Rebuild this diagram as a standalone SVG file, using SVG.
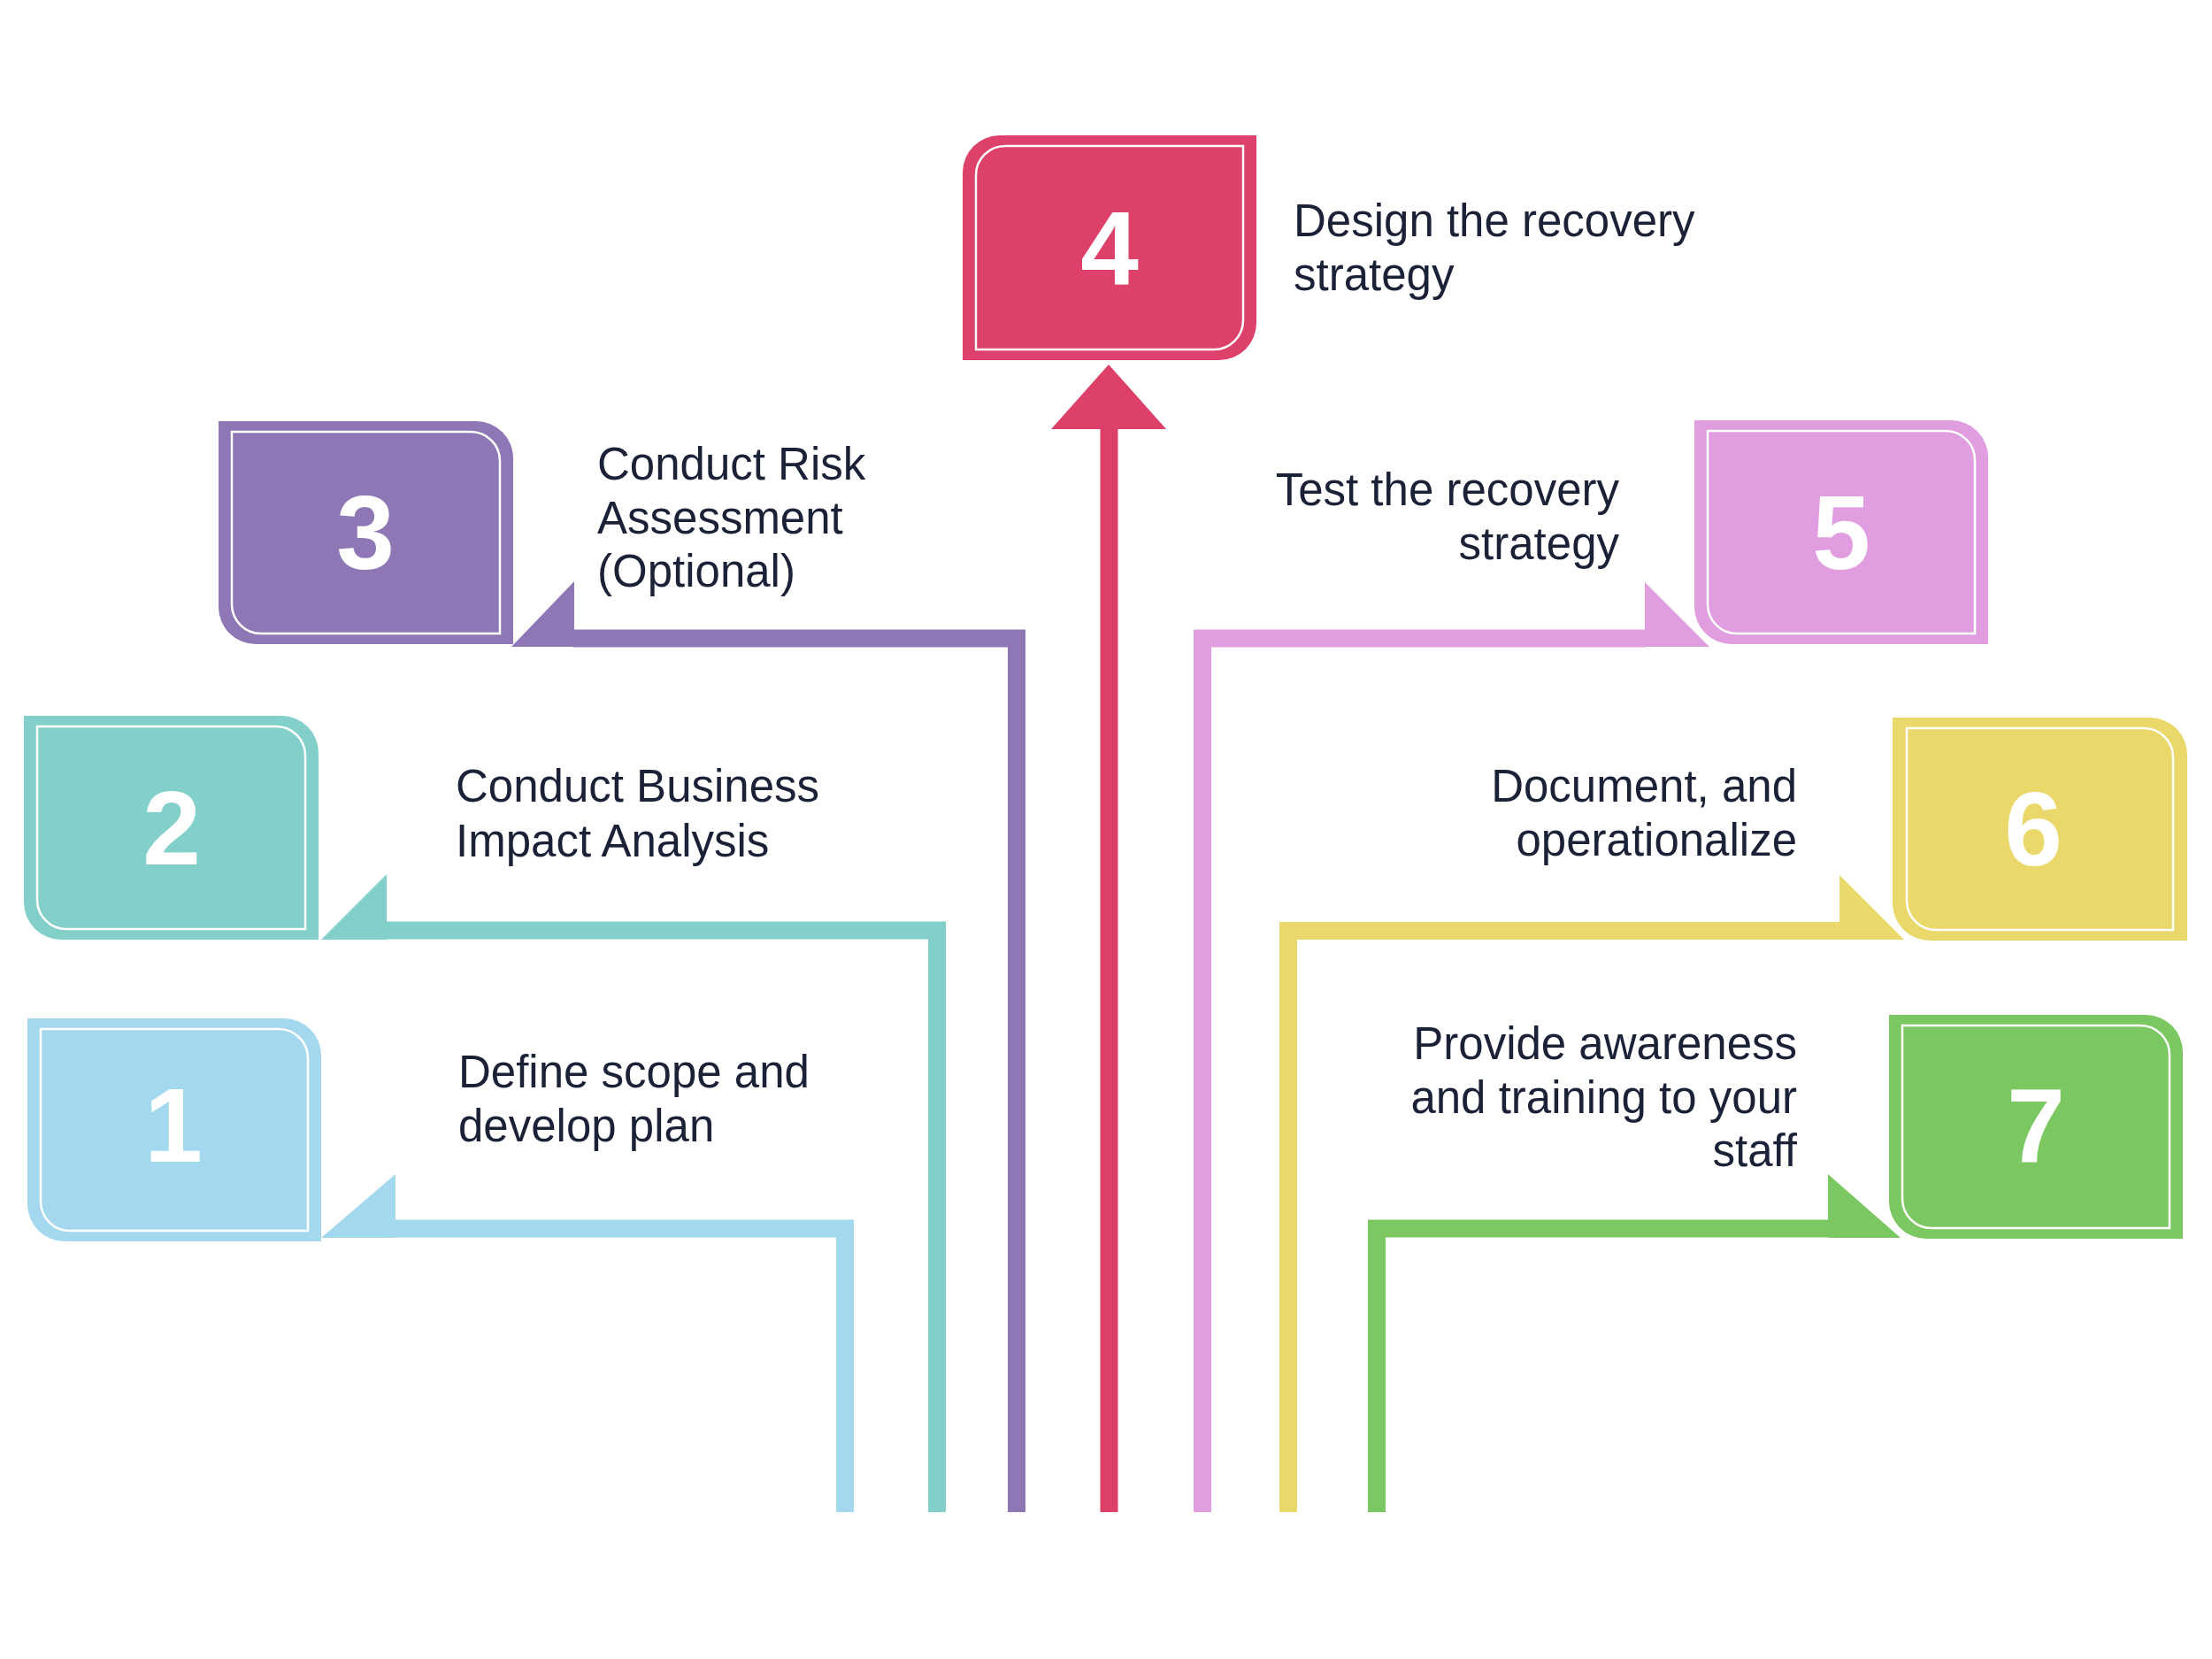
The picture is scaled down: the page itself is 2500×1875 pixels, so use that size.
<svg xmlns="http://www.w3.org/2000/svg" width="2500" height="1875" viewBox="0 0 2500 1875">
<style>
.lbl{font-family:"Liberation Sans",Arial,sans-serif;font-size:51px;fill:#1B2137}
.num{font-family:"Liberation Sans",Arial,sans-serif;font-size:118px;font-weight:bold;fill:#FFFFFF;text-anchor:middle}
.inner{fill:none;stroke:#FFFFFF;stroke-width:2.5}
.conn{fill:none;stroke-width:20;stroke-linejoin:miter;stroke-linecap:butt}
.end{text-anchor:end}
</style>
<rect x="0" y="0" width="2500" height="1875" fill="#FFFFFF"/>
<g id="connectors">
  <path class="conn" stroke="#A3D8EE" d="M955 1709 V1388.5 H446"/>
  <polygon fill="#A3D8EE" points="447,1327 447,1399 363,1399"/>
  <path class="conn" stroke="#83D0CB" d="M1059 1709 V1051.5 H436"/>
  <polygon fill="#83D0CB" points="437,988 437,1062 363,1062"/>
  <path class="conn" stroke="#8F76B5" d="M1149 1709 V721.5 H648"/>
  <polygon fill="#8F76B5" points="649,657 649,731 578,731"/>
  <path class="conn" stroke="#DD4068" d="M1253.5 1709 V484"/>
  <polygon fill="#DD4068" points="1188,485 1318,485 1253,412"/>
  <path class="conn" stroke="#E09DE0" d="M1359 1709 V721.5 H1860"/>
  <polygon fill="#E09DE0" points="1859,658 1859,731 1932,731"/>
  <path class="conn" stroke="#EAD86A" d="M1456 1709 V1052 H2080"/>
  <polygon fill="#EAD86A" points="2079,989 2079,1062 2152,1062"/>
  <path class="conn" stroke="#7BC862" d="M1556 1709 V1388.5 H2067"/>
  <polygon fill="#7BC862" points="2066,1327 2066,1399 2148,1399"/>
</g>
<g id="node1">
  <path fill="#A3D8EE" d="M31 1151 H321 A42 42 0 0 1 363 1193 V1403 H73 A42 42 0 0 1 31 1361 Z"/>
  <path class="inner" d="M46 1163 H315 A33 33 0 0 1 348 1196 V1391 H79 A33 33 0 0 1 46 1358 Z"/>
  <text class="num" x="196" y="1313">1</text>
  <text class="lbl" x="518" y="1229">Define scope and</text>
  <text class="lbl" x="518" y="1290">develop plan</text>
</g>
<g id="node2">
  <path fill="#83D0CB" d="M27 809 H318 A42 42 0 0 1 360 851 V1062 H69 A42 42 0 0 1 27 1020 Z"/>
  <path class="inner" d="M42 821 H312 A33 33 0 0 1 345 854 V1050 H75 A33 33 0 0 1 42 1017 Z"/>
  <text class="num" x="194" y="977">2</text>
  <text class="lbl" x="515" y="906">Conduct Business</text>
  <text class="lbl" x="515" y="968">Impact Analysis</text>
</g>
<g id="node3">
  <path fill="#8F76B5" d="M247 476 H538 A42 42 0 0 1 580 518 V728 H289 A42 42 0 0 1 247 686 Z"/>
  <path class="inner" d="M262 488 H532 A33 33 0 0 1 565 521 V716 H295 A33 33 0 0 1 262 683 Z"/>
  <text class="num" x="413" y="643">3</text>
  <text class="lbl" x="675" y="542">Conduct Risk</text>
  <text class="lbl" x="675" y="603">Assessment</text>
  <text class="lbl" x="675" y="663">(Optional)</text>
</g>
<g id="node4">
  <path fill="#DD4068" d="M1130 153 H1420 V365 A42 42 0 0 1 1378 407 H1088 V195 A42 42 0 0 1 1130 153 Z"/>
  <path class="inner" d="M1136 165 H1405 V362 A33 33 0 0 1 1372 395 H1103 V198 A33 33 0 0 1 1136 165 Z"/>
  <text class="num" x="1254" y="322">4</text>
  <text class="lbl" x="1462" y="267">Design the recovery</text>
  <text class="lbl" x="1462" y="328">strategy</text>
</g>
<g id="node5">
  <path fill="#E09DE0" d="M1915 475 H2205 A42 42 0 0 1 2247 517 V728 H1957 A42 42 0 0 1 1915 686 Z"/>
  <path class="inner" d="M1930 487 H2199 A33 33 0 0 1 2232 520 V716 H1963 A33 33 0 0 1 1930 683 Z"/>
  <text class="num" x="2081" y="643">5</text>
  <text class="lbl end" x="1830" y="571">Test the recovery</text>
  <text class="lbl end" x="1830" y="632">strategy</text>
</g>
<g id="node6">
  <path fill="#EAD86A" d="M2139 811 H2430 A42 42 0 0 1 2472 853 V1063 H2181 A42 42 0 0 1 2139 1021 Z"/>
  <path class="inner" d="M2155 823 H2423 A33 33 0 0 1 2456 856 V1051 H2188 A33 33 0 0 1 2155 1018 Z"/>
  <text class="num" x="2298" y="978">6</text>
  <text class="lbl end" x="2031" y="906">Document, and</text>
  <text class="lbl end" x="2031" y="967">operationalize</text>
</g>
<g id="node7">
  <path fill="#7BC862" d="M2135 1147 H2425 A42 42 0 0 1 2467 1189 V1400 H2177 A42 42 0 0 1 2135 1358 Z"/>
  <path class="inner" d="M2150 1159 H2419 A33 33 0 0 1 2452 1192 V1388 H2183 A33 33 0 0 1 2150 1355 Z"/>
  <text class="num" x="2301" y="1313">7</text>
  <text class="lbl end" x="2031" y="1197">Provide awareness</text>
  <text class="lbl end" x="2031" y="1258">and training to your</text>
  <text class="lbl end" x="2031" y="1318">staff</text>
</g>
</svg>
